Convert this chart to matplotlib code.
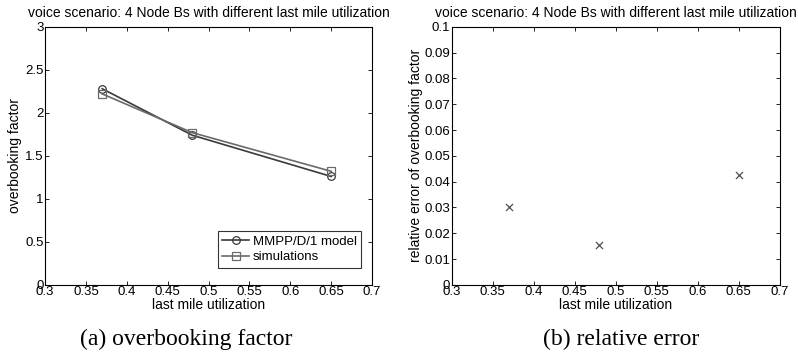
import matplotlib.pyplot as plt
import numpy as np

utilization = [0.37, 0.48, 0.65]
model_factor = [2.28, 1.74, 1.26]
sim_factor = [2.22, 1.77, 1.32]
rel_error = [0.030, 0.0155, 0.0425]

title = "voice scenario: 4 Node Bs with different last mile utilization"

plt.rcParams["font.family"] = ["Liberation Sans", "DejaVu Sans"]
plt.rcParams["font.size"] = 9.5

fig = plt.figure(figsize=(7.98, 3.53), dpi=100)
ax1 = fig.add_axes([0.0564, 0.193, 0.41, 0.731])
ax2 = fig.add_axes([0.566, 0.193, 0.411, 0.731])


def style(ax):
    ax.set_xlim(0.3, 0.7)
    ticks = np.round(np.arange(0.3, 0.701, 0.05), 2)
    ax.set_xticks(ticks)
    ax.set_xticklabels([f"{v:g}" for v in ticks])
    ax.tick_params(direction="in", top=True, right=True, length=3, width=0.6, pad=1)
    for s in ax.spines.values():
        s.set_linewidth(0.8)
    ax.set_xlabel("last mile utilization", fontsize=10, labelpad=0)
    ax.set_title(title, fontsize=10, pad=7)


ax1.plot(utilization, model_factor, color="#3a3a3a", lw=1.2, marker="o",
         ms=5.5, mfc="none", mew=0.9, label="MMPP/D/1 model")
ax1.plot(utilization, sim_factor, color="#6a6a6a", lw=1.2, marker="s",
         ms=5.5, mfc="none", mew=0.9, label="simulations")
ax1.set_ylim(0, 3)
ax1.set_yticks(np.arange(0, 3.01, 0.5))
ax1.set_yticklabels(["0", "0.5", "1", "1.5", "2", "2.5", "3"])
ax1.set_ylabel("overbooking factor", fontsize=10, labelpad=2)
style(ax1)
leg = ax1.legend(loc="lower right", fontsize=9.5, frameon=True, fancybox=False,
                 edgecolor="black", handlelength=2.0, borderpad=0.35,
                 labelspacing=0.25, handletextpad=0.3, borderaxespad=0,
                 bbox_to_anchor=(0.967, 0.066))
leg.get_frame().set_linewidth(0.8)

ax2.scatter(utilization, rel_error, marker="x", s=26, color="#505050", lw=0.9)
ax2.set_ylim(0, 0.1)
ax2.set_yticks(np.arange(0, 0.1001, 0.01))
ax2.set_yticklabels(["0"] + [f"{v:.2f}" for v in np.arange(0.01, 0.1, 0.01)] + ["0.1"])
ax2.set_ylabel("relative error of overbooking factor", fontsize=10, labelpad=1)
style(ax2)

fig.text(186 / 798, 0.038, "(a) overbooking factor", family="Liberation Serif",
         fontsize=17, ha="center", va="center")
fig.text(621 / 798, 0.038, "(b) relative error", family="Liberation Serif",
         fontsize=17, ha="center", va="center")

fig.savefig("out.png", dpi=100)
